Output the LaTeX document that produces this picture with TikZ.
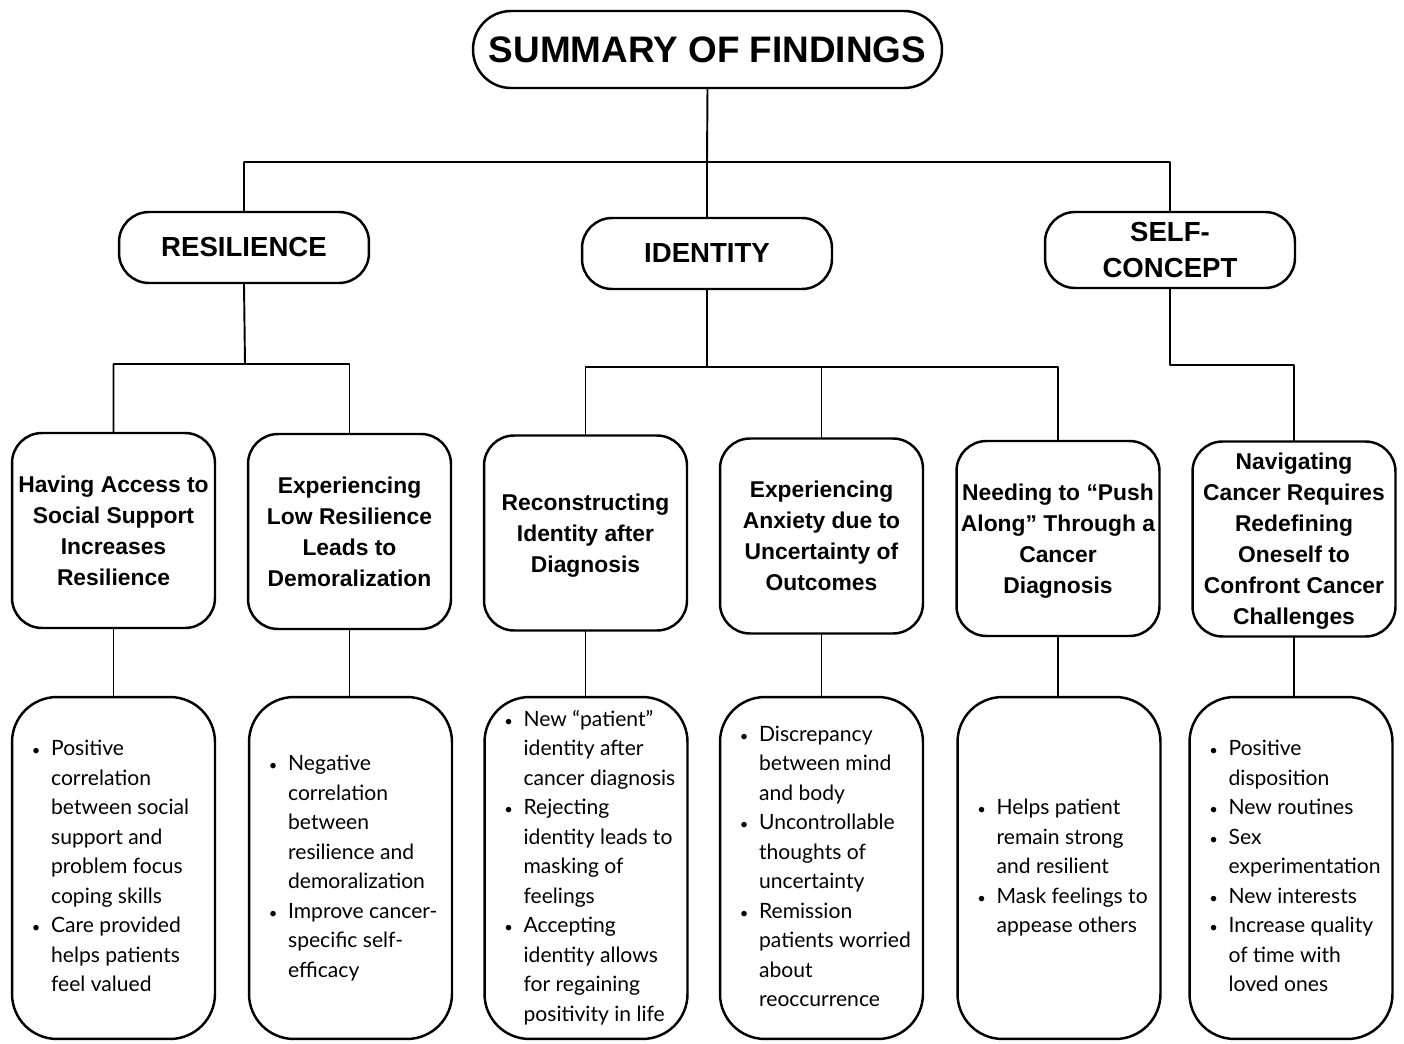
\documentclass[tikz,border=0pt]{standalone}
\usepackage{fontspec}
\setmainfont{Liberation Sans}
\newfontfamily\listfont{Lato}
\usepackage{array}

\tikzset{
  titlebox/.style={draw,line width=1.4pt,rounded corners=0.76cm,minimum width=9.38cm,minimum height=1.54cm,
    inner sep=0pt,font=\bfseries\fontsize{21}{24}\selectfont},
  themebox/.style={draw,line width=1.4pt,rounded corners=0.6cm,minimum width=5cm,minimum height=1.42cm,
    inner sep=0pt,align=center,font=\bfseries\fontsize{15.7}{20}\selectfont},
  subbox/.style={draw,line width=1.4pt,rounded corners=0.6cm,minimum width=4.06cm,minimum height=3.9cm,
    inner sep=0pt,text depth=0pt,align=center,font=\bfseries\fontsize{13}{17.6}\selectfont},
  listbox/.style={draw,line width=1.4pt,rounded corners=0.9cm,minimum width=4.06cm,minimum height=6.84cm,inner sep=0pt},
  listtext/.style={anchor=west,inner sep=0pt,font=\listfont\fontsize{12}{16.8}\selectfont},
  link/.style={line width=1.1pt},
}
\newcommand{\blist}[1]{\begin{tabular}{@{}p{0.44cm}@{}l@{}}#1\end{tabular}}
\newcommand{\bl}{\hspace{1.5pt}\scalebox{0.7}{\textbullet}}

\begin{document}
\begin{tikzpicture}[x=0.02cm,y=-0.02cm,line cap=round,line join=round]
  \fill[white] (0,0) rectangle (1404,1044);
  \useasboundingbox (0,0) rectangle (1404,1044);

  % top
  \node[titlebox] (sum) at (707.5,49.5) {SUMMARY OF FINDINGS};

  % themes
  \node[themebox] (res) at (244,247.5) {RESILIENCE};
  \node[themebox] (ide) at (707,253.5) {IDENTITY};
  \node[themebox,minimum height=1.52cm] (sel) at (1170,250) {SELF-\\CONCEPT};

  % subthemes
  \node[subbox] (s1) at (113.5,530.5) {Having Access to\\Social Support\\Increases\\Resilience};
  \node[subbox] (s2) at (349.5,531.5) {Experiencing\\Low Resilience\\Leads to\\Demoralization};
  \node[subbox] (s3) at (585.5,533) {Reconstructing\\Identity after\\Diagnosis};
  \node[subbox] (s4) at (821.5,536) {Experiencing\\Anxiety due to\\Uncertainty of\\Outcomes};
  \node[subbox] (s5) at (1058,538.5) {Needing to “Push\\Along” Through a\\Cancer\\Diagnosis};
  \node[subbox] (s6) at (1294,539) {Navigating\\Cancer Requires\\Redefining\\Oneself to\\Confront Cancer\\Challenges};

  % findings
  \node[listbox] (f1) at (113.5,868) {};
  \node[listbox] (f2) at (350.5,868) {};
  \node[listbox] (f3) at (586,868) {};
  \node[listbox] (f4) at (821.5,868) {};
  \node[listbox] (f5) at (1059,868) {};
  \node[listbox] (f6) at (1291,868) {};

  \node[listtext] (l1) at ([xshift=0.36cm]f1.west) {\blist{%
    \bl & Positive\\ & correlation\\ & between social\\ & support and\\ & problem focus\\ & coping skills\\
    \bl & Care provided\\ & helps patients\\ & feel valued}};
  \node[listtext] (l2) at ([xshift=0.36cm]f2.west) {\blist{%
    \bl & Negative\\ & correlation\\ & between\\ & resilience and\\ & demoralization\\
    \bl & Improve cancer-\\ & specific self-\\ & efficacy}};
  \node[listtext] (l3) at ([xshift=0.36cm]f3.west) {\blist{%
    \bl & New “patient”\\ & identity after\\ & cancer diagnosis\\
    \bl & Rejecting\\ & identity leads to\\ & masking of\\ & feelings\\
    \bl & Accepting\\ & identity allows\\ & for regaining\\ & positivity in life}};
  \node[listtext] (l4) at ([xshift=0.36cm]f4.west) {\blist{%
    \bl & Discrepancy\\ & between mind\\ & and body\\
    \bl & Uncontrollable\\ & thoughts of\\ & uncertainty\\
    \bl & Remission\\ & patients worried\\ & about\\ & reoccurrence}};
  \node[listtext] (l5) at ([xshift=0.36cm]f5.west) {\blist{%
    \bl & Helps patient\\ & remain strong\\ & and resilient\\
    \bl & Mask feelings to\\ & appease others}};
  \node[listtext] (l6) at ([xshift=0.36cm]f6.west) {\blist{%
    \bl & Positive\\ & disposition\\
    \bl & New routines\\
    \bl & Sex\\ & experimentation\\
    \bl & New interests\\
    \bl & Increase quality\\ & of time with\\ & loved ones}};

  % tree lines
  \coordinate (bus0) at (707,162);
  \coordinate (bus1) at (245,364);
  \coordinate (bus2) at (707,367);
  \coordinate (bus3) at (1170,365);
  \draw[link] (sum.south) -- (bus0) -| (res.north);
  \draw[link] (bus0) -| (sel.north);
  \draw[link] (bus0) -- (ide.north);
  \draw[link] (res.south) -- (bus1) -| (s1.north);
  \draw[link] (bus1) -| (s2.north);
  \draw[link] (ide.south) -- (bus2) -| (s3.north);
  \draw[link] (bus2) -| (s4.north);
  \draw[link] (bus2) -| (s5.north);
  \draw[link] (sel.south) -- (bus3) -| (s6.north);
  \foreach \i in {1,...,6}
    \draw[link] (s\i.south) -- (s\i.south |- f\i.north);
\end{tikzpicture}
\end{document}
